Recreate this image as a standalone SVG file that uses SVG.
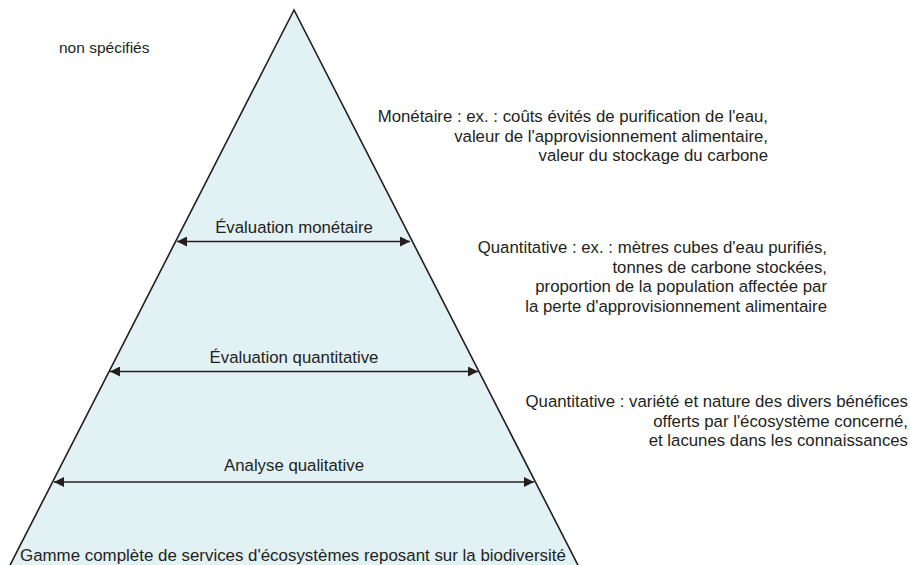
<svg xmlns="http://www.w3.org/2000/svg" width="910" height="565" viewBox="0 0 910 565">
  <style>
    text { font-family: "Liberation Sans", Arial, sans-serif; font-size: 16.8px; fill: #231f20; }
    .mid { text-anchor: middle; }
    .end { text-anchor: end; }
    .pyr { fill: #e1f1f4; stroke: #231f20; stroke-width: 1.6; }
    .conn { stroke: #231f20; stroke-width: 1.4; fill: none; marker-start: url(#arrowStart); marker-end: url(#arrowEnd); }
  </style>
  <defs>
    <marker id="arrowEnd" viewBox="0 0 10 10" refX="10" refY="5" markerWidth="10" markerHeight="10" markerUnits="userSpaceOnUse" orient="auto">
      <path d="M0,0 L10,5 L0,10 Z" fill="#231f20"/>
    </marker>
    <marker id="arrowStart" viewBox="0 0 10 10" refX="0" refY="5" markerWidth="10" markerHeight="10" markerUnits="userSpaceOnUse" orient="auto">
      <path d="M10,0 L0,5 L10,10 Z" fill="#231f20"/>
    </marker>
  </defs>

  <rect width="910" height="565" fill="#ffffff"/>

  <!-- pyramid -->
  <g id="pyramid">
    <polygon class="pyr" points="294,10 5,575 583,575"/>
  </g>

  <!-- level labels inside the pyramid -->
  <g id="level-monetaire">
    <text class="mid" x="294" y="233">Évaluation monétaire</text>
  </g>
  <g id="level-quantitative">
    <text class="mid" x="294" y="363">Évaluation quantitative</text>
  </g>
  <g id="level-qualitative">
    <text class="mid" x="294" y="471">Analyse qualitative</text>
  </g>
  <g id="base">
    <text x="20" y="561" style="font-size:16.9px">Gamme complète de services d'écosystèmes reposant sur la biodiversité</text>
  </g>

  <!-- width arrows -->
  <g id="connectors">
    <line class="conn" x1="177" y1="241.5" x2="410" y2="241.5"/>
    <line class="conn" x1="110" y1="371.5" x2="478" y2="371.5"/>
    <line class="conn" x1="54" y1="482" x2="534" y2="482"/>
  </g>

  <!-- side notes -->
  <g id="note-top">
    <text x="59" y="53" style="font-size:15.5px">non spécifiés</text>
  </g>
  <g id="note-monetaire">
    <text class="end" x="768" y="122">Monétaire : ex. : coûts évités de purification de l'eau,</text>
    <text class="end" x="768" y="142">valeur de l'approvisionnement alimentaire,</text>
    <text class="end" x="768" y="161">valeur du stockage du carbone</text>
  </g>
  <g id="note-quantitative">
    <text class="end" x="827" y="253">Quantitative : ex. : mètres cubes d'eau purifiés,</text>
    <text class="end" x="827" y="273">tonnes de carbone stockées,</text>
    <text class="end" x="827" y="292">proportion de la population affectée par</text>
    <text class="end" x="827" y="312">la perte d'approvisionnement alimentaire</text>
  </g>
  <g id="note-qualitative">
    <text class="end" x="908" y="407">Quantitative : variété et nature des divers bénéfices</text>
    <text class="end" x="908" y="427">offerts par l'écosystème concerné,</text>
    <text class="end" x="908" y="446">et lacunes dans les connaissances</text>
  </g>
</svg>
